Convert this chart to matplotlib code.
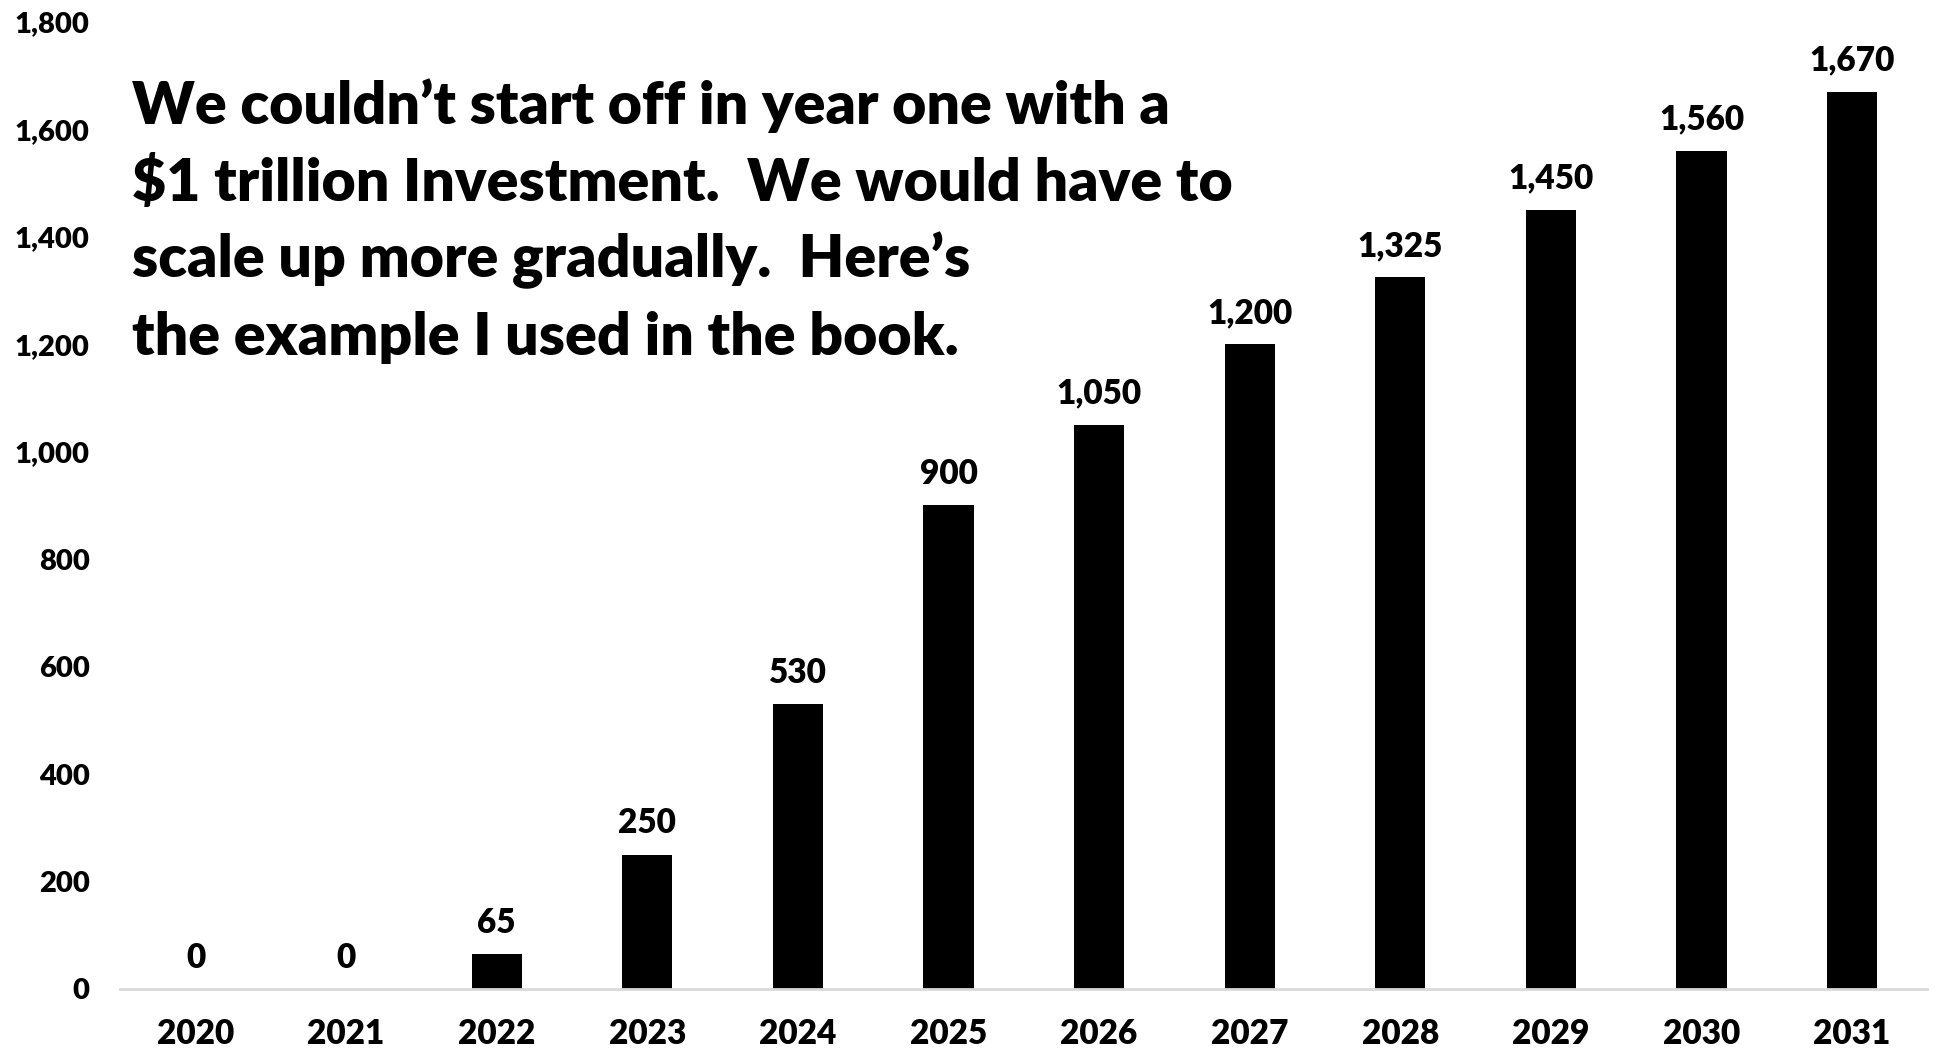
import matplotlib
matplotlib.use("Agg")
import matplotlib.pyplot as plt

years = ["2020", "2021", "2022", "2023", "2024", "2025",
         "2026", "2027", "2028", "2029", "2030", "2031"]
investment = [0, 0, 65, 250, 530, 900, 1050, 1200, 1325, 1450, 1560, 1670]
y_ticks = [0, 200, 400, 600, 800, 1000, 1200, 1400, 1600, 1800]

note_lines = [
    "We couldn\u2019t start off in year one with a",
    "$1 trillion Investment.  We would have to",
    "scale up more gradually.  Here\u2019s",
    "the example I used in the book.",
]

W = "heavy"
plt.rcParams["font.family"] = ["Lato", "DejaVu Sans"]
plt.rcParams["font.weight"] = W

fig = plt.figure(figsize=(19.39, 10.52), dpi=100)
ax = fig.add_axes([0.062, 0.060, 0.932, 0.919])

x = list(range(len(years)))
ax.bar(x, investment, width=1/3, color="black", zorder=3)

for xi, v in zip(x, investment):
    ax.annotate(f"{v:,}", xy=(xi, v), xytext=(0, 11), textcoords="offset points",
                ha="center", va="bottom", fontsize=24, fontweight=W)

ax.set_xlim(-0.5, len(years) - 0.5)
ax.set_ylim(0, 1800)
ax.set_xticks(x)
ax.set_xticklabels(years, fontsize=24, fontweight=W)
ax.set_yticks(y_ticks)
ax.set_yticklabels([f"{t:,}" for t in y_ticks], fontsize=21, fontweight=W)
ax.tick_params(axis="both", length=0)
ax.tick_params(axis="x", pad=21)
ax.tick_params(axis="y", pad=22)

for side in ["top", "right", "left"]:
    ax.spines[side].set_visible(False)
ax.spines["bottom"].set_color("#d9d9d9")
ax.spines["bottom"].set_linewidth(2)
ax.spines["bottom"].set_zorder(4)

# Annotation block, one text per line
line_top = 0.900
line_step = 0.0735
for i, line in enumerate(note_lines):
    fig.text(0.068, line_top - i * line_step, line, ha="left", va="center",
             fontsize=42.5, fontweight=W)

fig.savefig("out.png", dpi=100)
